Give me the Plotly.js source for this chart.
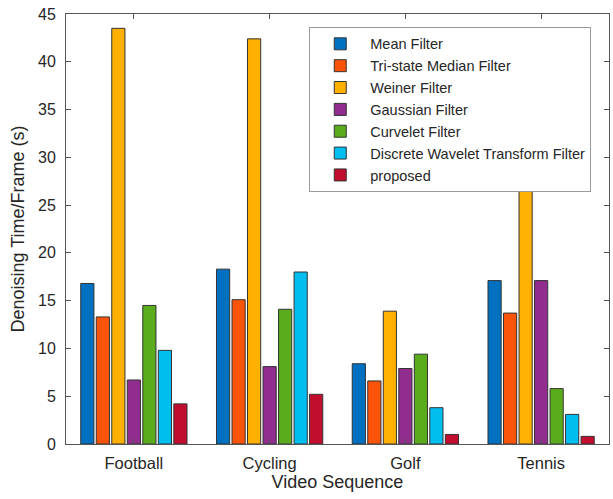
<!DOCTYPE html>
<html><head><meta charset="utf-8">
<script src="https://cdn.plot.ly/plotly-3.0.1.min.js"></script>
<style>html,body{margin:0;padding:0;background:#fff}#c{width:613px;height:499px}</style>
</head><body><div id="c"></div>
<script>
const categories = ["Football", "Cycling", "Golf", "Tennis"];
const seriesNames = ["Mean Filter", "Tri-state Median Filter", "Weiner Filter", "Gaussian Filter", "Curvelet Filter", "Discrete Wavelet Transform Filter", "proposed"];
const meanFilter = [16.8, 18.3, 8.4, 17.1];
const triStateMedian = [13.3, 15.1, 6.6, 13.7];
const weinerFilter = [43.5, 42.4, 13.9, 32.0];
const gaussianFilter = [6.7, 8.1, 7.9, 17.1];
const curveletFilter = [14.5, 14.1, 9.4, 5.8];
const dwtFilter = [9.8, 18.0, 3.8, 3.1];
const proposed = [4.2, 5.2, 1.0, 0.8];
const colors = ["#0071C1", "#F95409", "#FFB000", "#902D8F", "#5AAC1D", "#00BEF0", "#C10D2E"];
const values = [meanFilter, triStateMedian, weinerFilter, gaussianFilter, curveletFilter, dwtFilter, proposed];

const traces = values.map((v, i) => ({
  type: "bar", name: seriesNames[i], x: categories, y: v,
  marker: {color: colors[i], line: {color: "#333333", width: 1}}
}));

const fam = "Liberation Sans, Arial, sans-serif";
const col = "#262626";
const layout = {
  width: 613, height: 499,
  margin: {l: 66, r: 4, t: 14, b: 55},
  paper_bgcolor: "#fff", plot_bgcolor: "#fff",
  barmode: "group", bargap: 0.2, bargroupgap: 0.15,
  font: {family: fam, size: 16, color: col},
  showlegend: true,
  legend: {x: 0.448, y: 0.97, xanchor: "left", yanchor: "top",
    bgcolor: "#fff", bordercolor: "#999", borderwidth: 1,
    font: {family: fam, size: 14.5, color: col}, tracegroupgap: 0, itemwidth: 50},
  xaxis: {
    title: {text: "Video Sequence", font: {family: fam, size: 18, color: col}, standoff: 4},
    range: [-0.5, 3.5], showline: true, linecolor: "#555", mirror: "ticks",
    ticks: "inside", ticklen: 5, tickcolor: "#555", showgrid: false, zeroline: false,
    ticklabelstandoff: 4,
    tickfont: {family: fam, size: 16.5, color: col}
  },
  yaxis: {
    title: {text: "Denoising Time/Frame (s)", font: {family: fam, size: 18, color: col}, standoff: 8},
    range: [0, 45], dtick: 5, showline: true, linecolor: "#555", mirror: "ticks",
    ticks: "inside", ticklen: 5, tickcolor: "#555", showgrid: false, zeroline: false,
    ticklabelstandoff: 6,
    tickfont: {family: fam, size: 16, color: col}
  }
};
Plotly.newPlot("c", traces, layout, {displayModeBar: false, staticPlot: true});
</script></body></html>
